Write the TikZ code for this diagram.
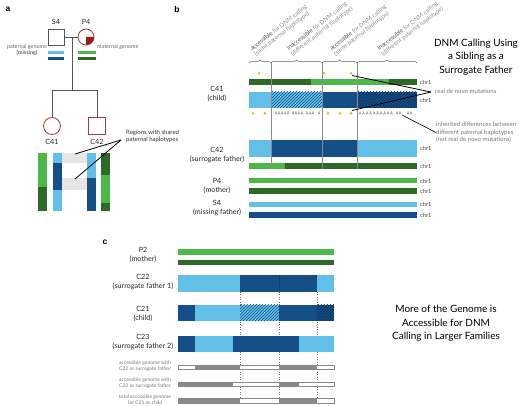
\documentclass[tikz,border=0pt]{standalone}
\usepackage{fontspec}
\setmainfont{Lato}
\newfontfamily\panelfont{Liberation Sans}
\usetikzlibrary{decorations.pathreplacing}
\definecolor{lblue}{HTML}{62C0E8}
\definecolor{dblue}{HTML}{144F88}
\definecolor{hdark}{HTML}{0B2E55}
\definecolor{lgreen}{HTML}{4DB84A}
\definecolor{dgreen}{HTML}{2E6A27}
\definecolor{pedred}{HTML}{A8383A}
\definecolor{pedfill}{HTML}{9A1C1C}
\definecolor{pedgray}{HTML}{555555}
\definecolor{ygold}{HTML}{E3BE2A}
\definecolor{txtgray}{HTML}{7A7A7A}
\definecolor{shadegray}{HTML}{E6E6E6}
\definecolor{accgray}{HTML}{8A8A8A}
\newcommand{\myhatch}[5]{\begin{scope}\clip (#1,#2) rectangle (#3,#4);\foreach \k in {-24,-21,...,80}{\draw[#5,line width=0.55] ({#1+\k},#4) -- ++(24,-24);}\end{scope}}
\newcommand{\ytri}[2]{\fill[ygold] ({#1-1.7},{#2+1.5}) -- ({#1+1.7},{#2+1.5}) -- (#1,{#2-1.7}) -- cycle;}
\newcommand{\gtri}[2]{\draw[black!45, line width=0.35] ({#1-1.1},{#2+1.5}) -- (#1,{#2-1.5}) -- ({#1+1.1},{#2+1.5}) ({#1-0.6},{#2+0.4}) -- ({#1+0.6},{#2+0.4});}
\begin{document}
\begin{tikzpicture}[x=1pt,y=-1pt,
  panel/.style={font=\panelfont\bfseries\fontsize{8.5}{9}\selectfont, inner sep=0},
  lab/.style={font=\fontsize{7.2}{9}\selectfont, align=center, text=black!85, inner sep=0},
  chr/.style={font=\fontsize{5.6}{6}\selectfont, text=black!75, anchor=west, inner sep=0},
  note/.style={font=\fontsize{6.1}{7.5}\selectfont, text=txtgray, align=left, inner sep=0},
  tiny/.style={font=\fontsize{5}{6}\selectfont, text=txtgray, align=center, inner sep=0},
  rot/.style={font=\fontsize{6}{6.8}\selectfont, text=txtgray!85, align=left, rotate=38, anchor=south west, inner sep=0.5},
  title/.style={font=\fontsize{10}{13.5}\selectfont, align=center, text=black, inner sep=0},
  ped/.style={line width=0.8, draw=pedgray},
  pedf/.style={line width=0.8, draw=pedred},
  vline/.style={draw=black!45, line width=0.45},
  ptr/.style={draw=black, line width=0.8},
  brc/.style={decorate, decoration={brace, amplitude=3}, draw=black!60, line width=0.5},
  dotl/.style={draw=black!55, line width=0.5, dotted}]
\useasboundingbox (0,0) rectangle (520,406);

% ---------------- panel a ----------------
\node[panel] (pa) at (8,9) {a};
\node[ped, rectangle, minimum size=16, inner sep=0] (S4) at (56,37) {};
\node[pedf, circle, minimum size=16, inner sep=0] (P4) at (86,37) {};
\fill[pedfill] (86,37) -- (94,37) arc[start angle=0, end angle=90, radius=8] -- cycle;
\node[lab] (S4l) at (56,22) {S4};
\node[lab] (P4l) at (86,22) {P4};
\coordinate (m) at (72,37);
\coordinate (sib) at (72,90);
\coordinate (sl) at (52,90);
\coordinate (sr) at (97,90);
\draw[ped] (S4.east) -- (P4.west);
\draw[ped] (m) -- (sib);
\draw[ped] (sl) -- (sr);
\node[pedf, circle, minimum size=17, inner sep=0] (C41) at (52,126) {};
\node[pedf, rectangle, minimum size=17, inner sep=0] (C42) at (97,126) {};
\draw[ped] (sl) -- (C41.north);
\draw[ped] (sr) -- (C42.north);
\node[lab] (C41l) at (52,142) {C41};
\node[lab] (C42l) at (97,142) {C42};
\node[note, align=center, text=black!60, font=\fontsize{5.4}{6.4}\selectfont] (pg) at (27,50) {paternal genome\\\textbf{(missing)}};
\node[note, anchor=west, text=black!60, font=\fontsize{5.4}{6.4}\selectfont] (mg) at (97,47) {maternal genome};
\fill[lblue] (48,51) rectangle (64,54);
\fill[dblue] (48,57) rectangle (64,60.5);
\fill[lgreen] (78,51) rectangle (96,54);
\fill[dgreen] (78,57) rectangle (96,60.5);
% vertical chromosomes
\fill[shadegray] (62,153) rectangle (87,163);
\fill[shadegray] (62,178) rectangle (87,190);
\fill[lgreen] (38,153) rectangle (47,187);
\fill[dgreen] (38,187) rectangle (47,211);
\fill[lblue] (53,153) rectangle (62,163);
\fill[dblue] (53,163) rectangle (62,190);
\fill[lblue] (53,190) rectangle (62,211);
\fill[lblue] (87,153) rectangle (96,178);
\fill[dblue] (87,178) rectangle (96,211);
\fill[dgreen] (101,153) rectangle (110,175);
\fill[lgreen] (101,175) rectangle (110,203);
\fill[dgreen] (101,203) rectangle (110,211);
\node[note, anchor=west, text=black!80, font=\fontsize{6}{7}\selectfont] (reg) at (126,136.5) {Regions with shared\\paternal haplotypes};
\coordinate (rp) at (121,140);
\coordinate (sh1) at (75,154);
\coordinate (sh2) at (75,179);
\draw[ptr] (rp) -- (sh1);
\draw[ptr] (rp) -- (sh2);

% ---------------- panel b ----------------
\node[panel] (pb) at (177,9) {b};
\node[title] (tb) at (476,57) {DNM Calling Using\\a Sibling as a\\Surrogate Father};
% braces
\coordinate (b0) at (249,63); \coordinate (b1) at (271,63); \coordinate (b2) at (322,63);
\coordinate (b3) at (357,63); \coordinate (b4) at (417,63);
\draw[brc] (b0) -- (b1);
\draw[brc] (b1) -- (b2);
\draw[brc] (b2) -- (b3);
\draw[brc] (b3) -- (b4);
\node[rot] (r1) at (257,58) {{\color{black!70}accessible} for DNM calling\\(same paternal haplotype)};
\node[rot] (r2) at (293.5,58) {{\color{black!70}inaccessible} for DNM calling\\(different paternal haplotype)};
\node[rot] (r3) at (336.5,58) {{\color{black!70}accessible} for DNM calling\\(same paternal haplotype)};
\node[rot] (r4) at (384,58) {{\color{black!70}inaccessible} for DNM calling\\(different paternal haplotype)};
% C41
\node[lab] (C41b) at (217,93.5) {C41\\(child)};
\fill[dgreen] (249,79) rectangle (311,85);
\fill[lgreen] (311,79) rectangle (389,85);
\fill[dgreen] (389,79) rectangle (417,85);
\fill[lblue] (249,92) rectangle (271,108);
\fill[lblue] (271,92) rectangle (322,108);
\myhatch{271}{92}{322}{108}{dblue}
\fill[dblue] (322,92) rectangle (357,108);
\fill[dblue] (357,92) rectangle (417,108);
\myhatch{357}{92}{417}{108}{hdark}
\node[chr] (k1) at (420,82) {chr1};
\node[chr] (k2) at (420,100) {chr1};
% triangles
\ytri{259}{73} \ytri{324}{73} \ytri{351}{73}
\ytri{253}{113} \ytri{265}{113} \ytri{328}{113} \ytri{340}{113} \ytri{351}{113}
\foreach \t in {276,279,282,285,288,293,296,299,302,307,310,313,319,360,363.5,367,370.5,374,377.5,381,384.5,388,391.5,397,400,408,411}{\gtri{\t}{113}}
% C42
\node[lab] (C42b) at (217,155) {C42\\(surrogate father)};
\fill[lblue] (249,140) rectangle (271,157);
\fill[dblue] (271,140) rectangle (357,157);
\fill[lblue] (357,140) rectangle (417,157);
\fill[lgreen] (249,163) rectangle (285,169);
\fill[dgreen] (285,163) rectangle (417,169);
\node[chr] (k3) at (420,148.5) {chr1};
\node[chr] (k4) at (420,166) {chr1};
% vertical guide lines
\draw[vline] (b1) -- (271,169);
\draw[vline] (b2) -- (322,169);
\draw[vline] (b3) -- (357,169);
% P4
\node[lab] (P4b) at (217,185.5) {P4\\(mother)};
\fill[lgreen] (249,178) rectangle (417,183.5);
\fill[dgreen] (249,188) rectangle (417,194);
\node[chr] (k5) at (420,181) {chr1};
\node[chr] (k6) at (420,191) {chr1};
% S4
\node[lab] (S4b) at (217,208) {S4\\(missing father)};
\fill[lblue] (249,202) rectangle (417,207.5);
\fill[dblue] (249,212) rectangle (417,218);
\node[chr] (k7) at (420,204.5) {chr1};
\node[chr] (k8) at (420,215) {chr1};
% annotations
\node[note, anchor=west] (rdn) at (435,91.5) {real de novo mutations};
\coordinate (t1) at (352,75.5);
\coordinate (t2) at (352,110.5);
\coordinate (rdp) at (431,92);
\draw[ptr] (rdp) -- (t1);
\draw[ptr] (rdp) -- (t2);
\node[note, anchor=west] (inh) at (436,132.5) {inherited differences between\\different paternal haplotypes\\(not real de novo mutations)};
\coordinate (g1) at (402,115);
\draw[ptr, line width=0.6] (g1) -- (inh.west);

% ---------------- panel c ----------------
\node[panel] (pc) at (105,242) {c};
\node[title] (tc) at (446,323.5) {More of the Genome is\\Accessible for DNM\\Calling in Larger Families};
\draw[dotl] (240,292) -- (240,404);
\draw[dotl] (279,292) -- (279,404);
\draw[dotl] (317,292) -- (317,404);
% P2
\node[lab] (P2c) at (143,255) {P2\\(mother)};
\fill[lgreen] (178,249) rectangle (334,255);
\fill[dgreen] (178,260) rectangle (334,265.5);
% C22
\node[lab] (C22c) at (143,282.5) {C22\\(surrogate father 1)};
\fill[lblue] (178,275) rectangle (240,292);
\fill[dblue] (240,275) rectangle (317,292);
\fill[lblue] (317,275) rectangle (334,292);
\draw[dblue!80!black, line width=0.3] (279,275) -- (279,292);
% C21
\node[lab] (C21c) at (143,313.5) {C21\\(child)};
\fill[dblue] (178,305) rectangle (195,321);
\fill[lblue] (195,305) rectangle (240,321);
\fill[lblue] (240,305) rectangle (279,321);
\myhatch{240}{305}{279}{321}{dblue}
\fill[dblue] (279,305) rectangle (317,321);
\fill[dblue] (317,305) rectangle (334,321);
\myhatch{317}{305}{334}{321}{hdark}
% C23
\node[lab] (C23c) at (143,342.5) {C23\\(surrogate father 2)};
\fill[dblue] (178,336) rectangle (195,352);
\fill[lblue] (195,336) rectangle (233,352);
\fill[dblue] (233,336) rectangle (299,352);
\fill[lblue] (299,336) rectangle (334,352);
% accessible rows
\node[tiny] (a1) at (145,366) {accessible genome with\\C22 as surrogate father};
\draw[accgray, fill=white, line width=0.6] (178,365) rectangle (334,369.5);
\fill[accgray] (195,365) rectangle (240,369.5);
\fill[accgray] (279,365) rectangle (317,369.5);
\node[tiny] (a2) at (145,383) {accessible genome with\\C23 as surrogate father};
\draw[accgray, fill=white, line width=0.6] (178,382) rectangle (334,386.5);
\fill[accgray] (178,382) rectangle (233,386.5);
\fill[accgray] (279,382) rectangle (299,386.5);
\node[tiny] (a3) at (145,400) {total accessible genome\\for C21 as child};
\draw[accgray, fill=white, line width=0.6] (178,398.5) rectangle (334,403);
\fill[accgray] (178,398.5) rectangle (240,403);
\fill[accgray] (279,398.5) rectangle (317,403);
\end{tikzpicture}
\end{document}
